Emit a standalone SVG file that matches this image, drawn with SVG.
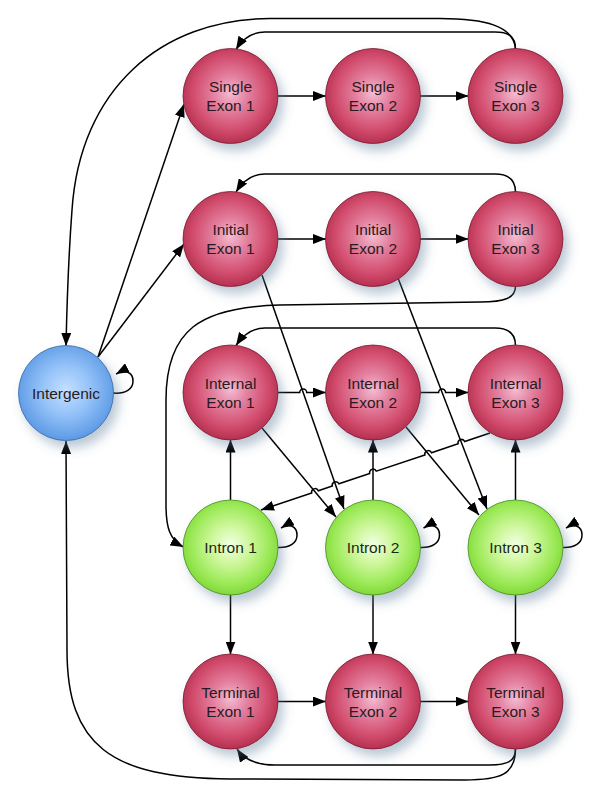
<svg xmlns="http://www.w3.org/2000/svg" width="600" height="804" viewBox="0 0 600 804">
<defs>
<radialGradient id="gRed" cx="50%" cy="47%" r="52%">
<stop offset="0" stop-color="#f4bcd2"/>
<stop offset="0.35" stop-color="#e3809f"/>
<stop offset="0.75" stop-color="#d24d6e"/>
<stop offset="1" stop-color="#b83252"/>
</radialGradient>
<radialGradient id="gGreen" cx="50%" cy="47%" r="52%">
<stop offset="0" stop-color="#f2ffe4"/>
<stop offset="0.4" stop-color="#cdf79a"/>
<stop offset="0.8" stop-color="#9be957"/>
<stop offset="1" stop-color="#84da3c"/>
</radialGradient>
<radialGradient id="gBlue" cx="50%" cy="47%" r="52%">
<stop offset="0" stop-color="#c4e0ff"/>
<stop offset="0.5" stop-color="#94c2f8"/>
<stop offset="1" stop-color="#5e9be6"/>
</radialGradient>
<filter id="shadow" x="-30%" y="-30%" width="170%" height="170%">
<feDropShadow dx="5" dy="7" stdDeviation="5.5" flood-color="#5a7a98" flood-opacity="0.42"/>
</filter>
<marker id="arr" markerUnits="userSpaceOnUse" markerWidth="13" markerHeight="10" refX="13" refY="5" orient="auto">
<path d="M0,0 L13,5 L0,10 z" fill="#000"/>
</marker>
<style>
.red{fill:url(#gRed);stroke:#7a1a30;stroke-width:0.8;filter:url(#shadow)}
.green{fill:url(#gGreen);stroke:#4a8a20;stroke-width:0.8;filter:url(#shadow)}
.blue{fill:url(#gBlue);stroke:#3a6aa0;stroke-width:0.8;filter:url(#shadow)}
.lbl{font-family:"Liberation Sans",Arial,sans-serif;font-size:15.5px;fill:#2a1a20;text-anchor:middle}
.c{fill:none;stroke:#000;stroke-width:1.5;marker-end:url(#arr)}
</style>
</defs>
<rect width="600" height="804" fill="#fff"/>

<g id="connectors">
<path class="c" d="M277.5,96 L326,96"/>
<path class="c" d="M420,96 L468.5,96"/>
<path class="c" d="M515.5,49 C515.5,36 508,32 495,32 L265,32 C252,32 243,38 236,49.5"/>
<path class="c" d="M515.5,49 C514,26 485,18.5 440,18.5 L270,18.5 C160,19 80,90 72,210 C69,250 67,300 66,346"/>
<path class="c" d="M98,357 L184,104"/>
<path class="c" d="M98,357 L184,244"/>
<path class="c" d="M113,393 C126,394 133,389 133,381 C133,372 125,369 116,374"/>
<path class="c" d="M277.5,239 L326,239"/>
<path class="c" d="M420,239 L468.5,239"/>
<path class="c" d="M515.5,192 C515.5,179 508,174 495,174 L265,174 C252,174 243,181 236,192"/>
<path class="c" d="M515.5,286 C515.5,298 505,302 480,302 L280,305 C200,307 166,330 166,400 L166,505 C166,528 170,540 183.5,547"/>
<path class="c" d="M262,275 L344,509"/>
<path class="c" d="M398,278 L487,509"/>
<path class="c" d="M277.5,392.5 L299.7,392.5 A3.5,3.5 0 0 1 306.7,392.5 L326,392.5"/>
<path class="c" d="M420,392.5 L438.6,392.5 A3.5,3.5 0 0 1 445.6,392.5 L468.5,392.5"/>
<path class="c" d="M515.5,345.5 C515.5,333 508,328 495,328 L265,328 C252,328 243,335 236,345.5"/>
<path class="c" d="M262,428 L336,517"/>
<path class="c" d="M406,427 L479,515"/>
<path class="c" d="M490,433 L464.7,441.5 A3.5,3.5 0 0 0 458.1,443.7 L431.5,452.7 A3.5,3.5 0 0 0 424.9,454.9 L376.3,471.2 A3.5,3.5 0 0 0 369.7,473.4 L338.9,483.8 A3.5,3.5 0 0 0 332.3,486 L318.3,490.7 A3.5,3.5 0 0 0 311.7,492.9 L261,510"/>
<path class="c" d="M230.5,500.5 L230.5,439.5"/>
<path class="c" d="M373,500.5 L373,439.5"/>
<path class="c" d="M515.5,500.5 L515.5,439.5"/>
<path class="c" d="M277.5,547.5 C290,548 297,543 297,535 C297,526 289,523 281,528"/>
<path class="c" d="M420,547.5 C432.5,548 439.5,543 439.5,535 C439.5,526 431.5,523 423.5,528"/>
<path class="c" d="M562.5,547.5 C575,548 582,543 582,535 C582,526 574,523 566,528"/>
<path class="c" d="M230.5,594.5 L230.5,654.5"/>
<path class="c" d="M373,594.5 L373,654.5"/>
<path class="c" d="M515.5,594.5 L515.5,654.5"/>
<path class="c" d="M277.5,701.5 L326,701.5"/>
<path class="c" d="M420,701.5 L468.5,701.5"/>
<path class="c" d="M515.5,748.5 C515.5,761 508,765 490,765 L275,765 C258,765 245,761 237,749"/>
<path class="c" d="M515.5,748.5 C515.5,775 500,780 465,780 L230,779 C110,778 67,745 67,650 L66,441"/>
</g>

<g id="intergenic"><circle class="blue" cx="66" cy="393" r="47.5"/><text class="lbl" x="66" y="398.5">Intergenic</text></g>

<g id="single1"><circle class="red" cx="230.5" cy="96" r="47.5"/><text class="lbl" x="230.5" y="92">Single</text><text class="lbl" x="230.5" y="111">Exon 1</text></g>
<g id="single2"><circle class="red" cx="373" cy="96" r="47.5"/><text class="lbl" x="373" y="92">Single</text><text class="lbl" x="373" y="111">Exon 2</text></g>
<g id="single3"><circle class="red" cx="515.5" cy="96" r="47.5"/><text class="lbl" x="515.5" y="92">Single</text><text class="lbl" x="515.5" y="111">Exon 3</text></g>

<g id="initial1"><circle class="red" cx="230.5" cy="239" r="47.5"/><text class="lbl" x="230.5" y="235">Initial</text><text class="lbl" x="230.5" y="254">Exon 1</text></g>
<g id="initial2"><circle class="red" cx="373" cy="239" r="47.5"/><text class="lbl" x="373" y="235">Initial</text><text class="lbl" x="373" y="254">Exon 2</text></g>
<g id="initial3"><circle class="red" cx="515.5" cy="239" r="47.5"/><text class="lbl" x="515.5" y="235">Initial</text><text class="lbl" x="515.5" y="254">Exon 3</text></g>

<g id="internal1"><circle class="red" cx="230.5" cy="392.5" r="47.5"/><text class="lbl" x="230.5" y="388.5">Internal</text><text class="lbl" x="230.5" y="407.5">Exon 1</text></g>
<g id="internal2"><circle class="red" cx="373" cy="392.5" r="47.5"/><text class="lbl" x="373" y="388.5">Internal</text><text class="lbl" x="373" y="407.5">Exon 2</text></g>
<g id="internal3"><circle class="red" cx="515.5" cy="392.5" r="47.5"/><text class="lbl" x="515.5" y="388.5">Internal</text><text class="lbl" x="515.5" y="407.5">Exon 3</text></g>

<g id="intron1"><circle class="green" cx="230.5" cy="547.5" r="47.5"/><text class="lbl" x="230.5" y="553" style="fill:#1a2a10">Intron 1</text></g>
<g id="intron2"><circle class="green" cx="373" cy="547.5" r="47.5"/><text class="lbl" x="373" y="553" style="fill:#1a2a10">Intron 2</text></g>
<g id="intron3"><circle class="green" cx="515.5" cy="547.5" r="47.5"/><text class="lbl" x="515.5" y="553" style="fill:#1a2a10">Intron 3</text></g>

<g id="terminal1"><circle class="red" cx="230.5" cy="701.5" r="47.5"/><text class="lbl" x="230.5" y="697.5">Terminal</text><text class="lbl" x="230.5" y="716.5">Exon 1</text></g>
<g id="terminal2"><circle class="red" cx="373" cy="701.5" r="47.5"/><text class="lbl" x="373" y="697.5">Terminal</text><text class="lbl" x="373" y="716.5">Exon 2</text></g>
<g id="terminal3"><circle class="red" cx="515.5" cy="701.5" r="47.5"/><text class="lbl" x="515.5" y="697.5">Terminal</text><text class="lbl" x="515.5" y="716.5">Exon 3</text></g>
</svg>
